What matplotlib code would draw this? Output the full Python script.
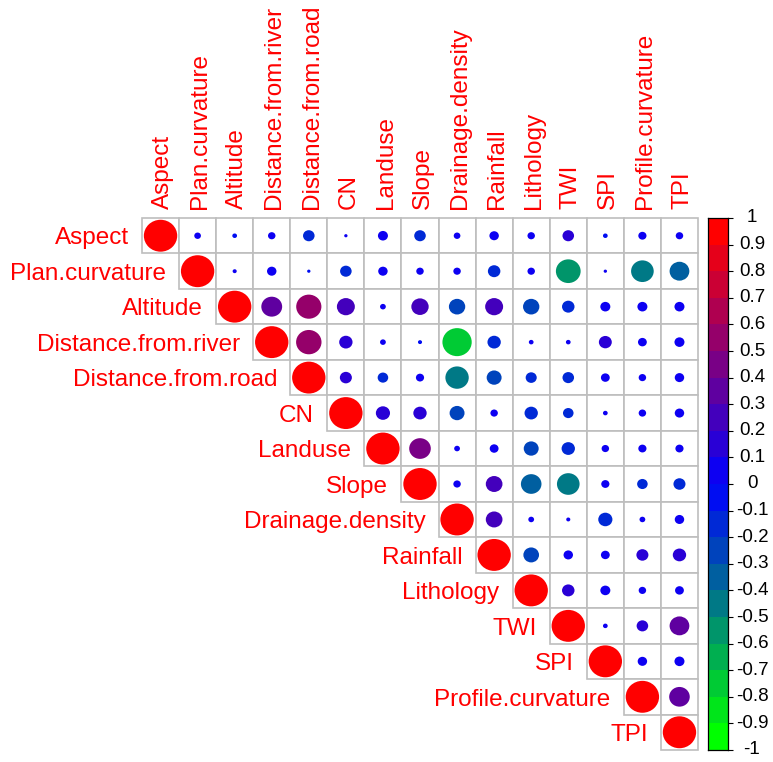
import numpy as np
import matplotlib
matplotlib.use("Agg")
import matplotlib.pyplot as plt
from matplotlib.patches import Ellipse, Rectangle
from matplotlib.colors import ListedColormap, BoundaryNorm, LinearSegmentedColormap

plt.rcParams['font.family'] = ['Liberation Sans', 'DejaVu Sans']

variables = ["Aspect", "Plan.curvature", "Altitude", "Distance.from.river",
             "Distance.from.road", "CN", "Landuse", "Slope", "Drainage.density",
             "Rainfall", "Lithology", "TWI", "SPI", "Profile.curvature", "TPI"]

# Upper-triangle correlations, each row starting at its diagonal
r_aspect = [1, 0.04, -0.02, 0.05, -0.12, 0.01, 0.09, -0.12, 0.04, 0.08, 0.05, 0.12, -0.02, 0.06, 0.05]
r_plan = [1, 0.015, 0.08, -0.01, -0.12, 0.08, 0.05, 0.05, -0.14, 0.05, -0.55, 0.01, -0.46, -0.35]
r_altitude = [1, 0.39, 0.57, 0.29, 0.03, 0.27, -0.24, 0.29, -0.24, -0.14, 0.09, 0.09, 0.09]
r_dist_river = [1, 0.58, 0.16, 0.03, -0.015, -0.77, -0.16, 0.02, 0.02, 0.15, 0.07, 0.09]
r_dist_road = [1, 0.13, -0.1, 0.06, -0.49, -0.2, -0.11, -0.12, 0.07, 0.05, 0.08]
r_cn = [1, 0.18, 0.16, -0.2, 0.05, -0.16, -0.1, 0.02, 0.05, 0.08]
r_landuse = [1, 0.42, 0.03, 0.07, -0.2, -0.16, 0.05, 0.06, 0.06]
r_slope = [1, 0.05, 0.25, -0.38, -0.46, 0.06, -0.1, -0.13]
r_drainage = [1, 0.25, 0.03, 0.015, -0.18, 0.03, 0.08]
r_rainfall = [1, -0.22, 0.08, 0.07, 0.13, 0.16]
r_lithology = [1, 0.14, 0.09, 0.05, 0.07]
r_twi = [1, 0.02, 0.12, 0.35]
r_spi = [1, 0.08, 0.09]
r_profile = [1, 0.38]
r_tpi = [1]

rows = [r_aspect, r_plan, r_altitude, r_dist_river, r_dist_road, r_cn, r_landuse,
        r_slope, r_drainage, r_rainfall, r_lithology, r_twi, r_spi, r_profile, r_tpi]

colorbar_ticks = [1, 0.9, 0.8, 0.7, 0.6, 0.5, 0.4, 0.3, 0.2, 0.1, 0, -0.1, -0.2,
                  -0.3, -0.4, -0.5, -0.6, -0.7, -0.8, -0.9, -1]

# 20-step palette ramping green -> blue -> red
ramp = LinearSegmentedColormap.from_list("gbr", ["#00FF00", "#0000FF", "#FF0000"])
palette = [ramp(i / 19) for i in range(20)]
cmap = ListedColormap(palette)
bounds = np.linspace(-1, 1, 21)
norm = BoundaryNorm(bounds, 20)

W, H = 773, 762
fig = plt.figure(figsize=(W / 100, H / 100), dpi=100)

gx0, gx1, gy0, gy1 = 142, 698, 218, 750
ax = fig.add_axes([gx0 / W, 1 - gy1 / H, (gx1 - gx0) / W, (gy1 - gy0) / H])
n = len(variables)
ax.set_xlim(0.5, n + 0.5)
ax.set_ylim(n + 0.5, 0.5)
ax.axis("off")

grid_color = "#BEBEBE"
for i, row in enumerate(rows):
    for k, r in enumerate(row):
        j = i + k
        ax.add_patch(Rectangle((j + 0.5, i + 0.5), 1, 1, facecolor="white",
                               edgecolor=grid_color, lw=1.2, zorder=1, clip_on=False))
        d = 0.9 * np.sqrt(abs(r))
        ax.add_patch(Ellipse((j + 1, i + 1), d, d, facecolor=cmap(norm(r)),
                             edgecolor="none", zorder=2, clip_on=False))

label_size = 17.5
half_cap = 0.716 * label_size / 2  # points
for i, name in enumerate(variables):
    ax.annotate(name, xy=(i + 0.5, i + 1), xytext=(-9.5, -half_cap),
                textcoords="offset points", ha="right", va="baseline",
                color="red", fontsize=label_size, annotation_clip=False)
    ax.annotate(name, xy=(i + 1, 0.5), xytext=(half_cap, 6.5),
                textcoords="offset points", ha="left", va="baseline",
                rotation=90, rotation_mode="anchor", color="red",
                fontsize=label_size, annotation_clip=False)

# Colour legend
cx0, cx1 = 708, 728
cax = fig.add_axes([cx0 / W, 1 - gy1 / H, (cx1 - cx0) / W, (gy1 - gy0) / H])
cax.pcolormesh([0, 1], bounds, np.array(bounds[:-1] + 0.05).reshape(-1, 1),
               cmap=cmap, norm=norm)
cax.set_xlim(0, 1)
cax.set_ylim(-1, 1)
cax.set_xticks([])
cax.yaxis.tick_right()
cax.set_yticks(colorbar_ticks)
cax.set_yticklabels([])
cax.tick_params(axis="y", length=3.6, width=0.8)
label_x = (752 - cx0) / (cx1 - cx0)
for t in colorbar_ticks:
    cax.text(label_x, t, f"{t:g}", transform=cax.get_yaxis_transform(),
             ha="center", va="center", fontsize=13.5, color="black")
for s in cax.spines.values():
    s.set_linewidth(0.9)
    s.set_color("black")

fig.savefig("out.png", dpi=100)
